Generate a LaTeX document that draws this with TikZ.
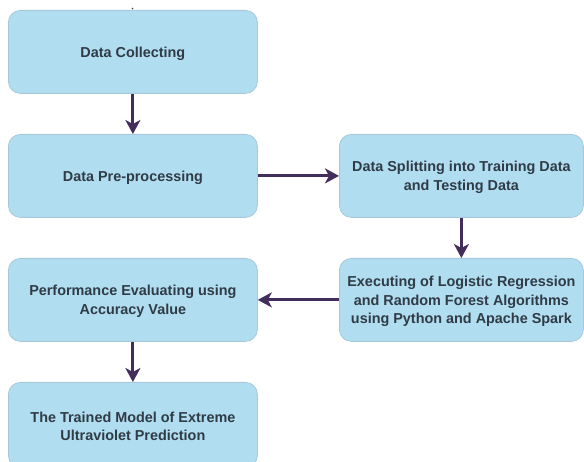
\documentclass[tikz,border=0pt]{standalone}
\usepackage{fontspec}
\setmainfont{Liberation Sans}
\usetikzlibrary{arrows.meta}
\definecolor{boxfill}{HTML}{B1DDF0}
\definecolor{boxline}{HTML}{A6C8DA}
\definecolor{flowink}{HTML}{432D5A}
\definecolor{textink}{HTML}{2F3B45}
\begin{document}
\begin{tikzpicture}[x=1pt,y=-1pt,
  stepbox/.style={draw=boxline,fill=boxfill,rounded corners=12pt,line width=0.8pt,
    minimum width=249pt,minimum height=83pt,inner sep=0pt,anchor=north west,
    align=center,text=textink,font=\fontsize{14.4}{18.4}\selectfont\bfseries},
  lbl/.style={align=center,text=textink,font=\fontsize{14.4}{18.4}\selectfont\bfseries},
  flow/.style={draw=flowink,line width=3pt,-{Stealth[length=14pt,width=15pt,inset=4pt]}}]
\useasboundingbox (0,0) rectangle (584,462);
% boxes
\node[stepbox] (collect) at (8,10) {};
\node[stepbox] (prep) at (8,134) {};
\node[stepbox,minimum width=244pt] (split) at (339,134) {};
\node[stepbox,minimum width=244pt] (exec) at (339,258) {};
\node[stepbox] (perf) at (8,258) {};
\node[stepbox,minimum height=85pt] (model) at (8,382) {};
% labels, set slightly below the box centres
\node[lbl] (collectT) at ([yshift=-1.5pt]collect.center) {Data Collecting};
\node[lbl] (prepT) at ([yshift=-1.5pt]prep.center) {Data Pre-processing};
\node[lbl] (splitT) at ([yshift=-1.5pt]split.center) {Data Splitting into Training Data\\and Testing Data};
\node[lbl] (execT) at ([yshift=-1.5pt]exec.center) {Executing of Logistic Regression\\and Random Forest Algorithms\\using Python and Apache Spark};
\node[lbl] (perfT) at ([yshift=-1.5pt]perf.center) {Performance Evaluating using\\Accuracy Value};
\node[lbl] (modelT) at ([yshift=-1.5pt]model.center) {The Trained Model of Extreme\\Ultraviolet Prediction};
\coordinate (tick) at (132.5,8.5);
\fill[flowink] (tick) circle (0.9pt);
% flow
\draw[flow] (collect) -- (prep);
\draw[flow] (prep) -- (split);
\draw[flow] (split) -- (exec);
\draw[flow] (exec) -- (perf);
\draw[flow] (perf) -- (model);
\end{tikzpicture}
\end{document}
